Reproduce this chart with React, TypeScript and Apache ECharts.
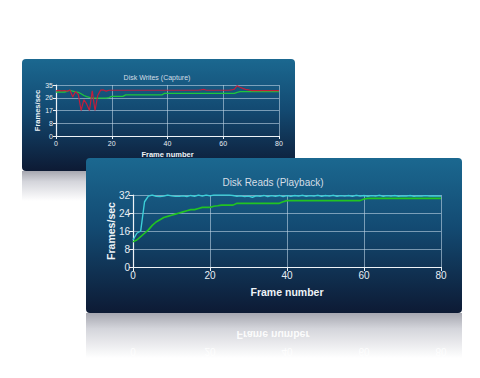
import React, { useEffect, useRef } from "react";
import * as echarts from "echarts";

const frames: number[] = Array.from({ length: 81 }, (_, i) => i);

// Disk Writes (Capture)
const writesRed: number[] = [
  31, 31.3, 31, 31.2, 30.8, 31.5, 26.8, 30.5, 28.5, 17.5,
  25, 22, 17.5, 31, 17.5, 28, 31.5, 31.6, 30.8, 31.4,
  31.4, 31.4, 31.4, 31.4, 31.4, 31.4, 31.4, 31.4, 31.4, 31.4,
  31.4, 31.4, 31.4, 31.4, 31.4, 31.4, 31.4, 31.4, 31.4, 31.4,
  31.4, 31.4, 31.4, 31.4, 31.4, 31.4, 31.4, 31.4, 31.4, 31.4,
  31.4, 31.4, 31.6, 32, 31.4, 31.4, 31.4, 31.4, 31.4, 31.4,
  31.4, 31.4, 31.4, 31.6, 32.2, 34.5, 33.5, 32.7, 32, 31.6,
  31.2, 31.2, 31.2, 31.2, 31.2, 31.2, 31.2, 31.2, 31.2, 31.2, 31.2,
];
const writesGreen: number[] = [
  30.2, 30.2, 30.2, 30.2, 30.6, 31.4, 30.8, 30.3, 30, 29,
  27.8, 27, 26.5, 26.2, 26, 26, 26, 26, 26, 26.4,
  27.2, 27.2, 27.2, 27.2, 27.2, 28.2, 28.2, 28.2, 28.2, 28.2,
  28.2, 28.2, 28.2, 28.2, 28.2, 28.2, 28.2, 28.2, 28.2, 29.3,
  29.3, 29.3, 29.3, 29.3, 29.3, 29.3, 29.3, 29.3, 29.3, 29.3,
  29.3, 29.3, 29.3, 29.3, 29.3, 29.3, 29.3, 29.3, 29.3, 29.3,
  29.3, 29.3, 29.3, 29.3, 29.3, 30, 30.4, 30.4, 30.4, 30.4,
  30.4, 30.4, 30.4, 30.4, 30.4, 30.4, 30.4, 30.4, 30.4, 30.4, 30.4,
];

// Disk Reads (Playback)
const readsCyan: number[] = [
  12, 15, 16, 29, 31.5, 32, 31.4, 31.3, 31.5, 32,
  31.6, 31.4, 31.4, 31.6, 31.3, 31.8, 31.4, 32, 31.5, 32,
  31.6, 32, 32, 32, 32, 32, 31.8, 31.4, 31.6, 31.3,
  31.5, 31, 31.6, 31.4, 31.8, 31.3, 31.7, 31.4, 31.8, 31.3,
  31.7, 31.4, 31.8, 31.5, 31.9, 31.4, 31.7, 31.5, 31.9, 31.4,
  31.8, 31.5, 31.9, 31.4, 31.7, 31.5, 31.8, 31.4, 31.9, 31.5,
  31.8, 31.4, 31.7, 31.5, 31.9, 31.4, 31.7, 31.5, 31.8, 31.4,
  31.6, 31.5, 31.8, 31.4, 31.6, 31.5, 31.7, 31.5, 31.6, 31.5, 31.5,
];
const readsGreen: number[] = [
  11.2, 12, 13.5, 15, 16.5, 18.5, 20, 21, 22, 22.5,
  23, 23.5, 24, 24.5, 25, 25.5, 25.5, 26, 26.5, 26.5,
  26.5, 27, 27.2, 27.5, 27.5, 27.5, 27.5, 28.3, 28.3, 28.3,
  28.3, 28.3, 28.3, 28.3, 28.3, 28.3, 28.3, 28.3, 28.3, 29,
  29.5, 29.5, 29.5, 29.5, 29.5, 29.5, 29.5, 29.5, 29.5, 29.5,
  29.5, 29.5, 29.5, 29.5, 29.5, 29.5, 29.5, 29.5, 29.5, 29.5,
  30.2, 30.5, 30.5, 30.5, 30.5, 30.5, 30.5, 30.5, 30.5, 30.5,
  30.5, 30.5, 30.5, 30.5, 30.5, 30.5, 30.5, 30.5, 30.5, 30.5, 30.5,
];

const xTicks = [0, 20, 40, 60, 80];
const FONT = "'Liberation Sans', Arial, sans-serif";

const pair = (ys: number[]) => frames.map((f, i) => [f, ys[i]]);

export default function App() {
  const ref = useRef<HTMLDivElement>(null);
  useEffect(() => {
    if (!ref.current) return;
    const chart = echarts.init(ref.current, undefined, { renderer: "svg" });
    const panelFill = () =>
      new echarts.graphic.LinearGradient(0, 0, 0, 1, [
        { offset: 0, color: "#1b6890" },
        { offset: 0.45, color: "#134a72" },
        { offset: 1, color: "#0d1a34" },
      ]);
    const reflFill = () =>
      new echarts.graphic.LinearGradient(0, 0, 0, 1, [
        { offset: 0, color: "#a6a7b0" },
        { offset: 0.35, color: "#d4d5db" },
        { offset: 1, color: "#ffffff" },
      ]);
    const gridLine = { lineStyle: { color: "rgba(190,212,228,0.6)", width: 1 } };
    const axisLine = { lineStyle: { color: "#eef3f7", width: 1.2 } };
    const tick = (len: number) => ({ show: true, length: len, lineStyle: { color: "#eef3f7" } });

    chart.setOption({
      animation: false,
      backgroundColor: "#ffffff",
      graphic: [
        // back panel
        { type: "rect", z: 1, shape: { x: 22, y: 171, width: 273, height: 30 }, style: { fill: reflFill() } },
        { type: "rect", z: 1, shape: { x: 22, y: 59, width: 273, height: 112, r: 4 }, style: { fill: panelFill() } },
        { type: "text", z: 3, x: 157, y: 77, style: { text: "Disk Writes (Capture)", fill: "#d6dee6", font: `7px ${FONT}`, textAlign: "center", textVerticalAlign: "middle" } },
        // front panel
        { type: "rect", z: 4, shape: { x: 86, y: 313, width: 376, height: 45 }, style: { fill: reflFill() } },
        { type: "text", z: 4, x: 273, y: 335, scaleY: -1, style: { text: "Frame number", fill: "rgba(255,255,255,0.9)", font: `bold 10.5px ${FONT}`, textAlign: "center", textVerticalAlign: "middle" } },
        ...xTicks.map((t) => ({
          type: "text", z: 4, x: 133 + (t / 80) * 308, y: 351, scaleY: -1,
          style: { text: String(t), fill: "rgba(255,255,255,0.85)", font: `10px ${FONT}`, textAlign: "center", textVerticalAlign: "middle" },
        })),
        { type: "rect", z: 5, shape: { x: 86, y: 158, width: 376, height: 155, r: 4 }, style: { fill: panelFill() } },
        { type: "text", z: 7, x: 273, y: 182, style: { text: "Disk Reads (Playback)", fill: "#d6dee6", font: `10px ${FONT}`, textAlign: "center", textVerticalAlign: "middle" } },
      ],
      grid: [
        { left: 56, right: 201, top: 85, bottom: 242, z: 2 },
        { left: 133, right: 39, top: 195, bottom: 111, z: 6 },
      ],
      xAxis: [
        {
          gridIndex: 0, type: "value", min: 0, max: 80, interval: 20, z: 2,
          axisLine, axisTick: tick(3), splitLine: gridLine,
          axisLabel: { color: "#e6edf3", fontSize: 7, margin: 4, fontFamily: FONT },
          name: "Frame number", nameLocation: "middle", nameGap: 14.5, nameMoveOverlap: false,
          nameTextStyle: { color: "#eef3f7", fontSize: 7.5, fontWeight: "bold", fontFamily: FONT },
        },
        {
          gridIndex: 1, type: "value", min: 0, max: 80, interval: 20, z: 6,
          axisLine, axisTick: tick(4), splitLine: gridLine,
          axisLabel: { color: "#e6edf3", fontSize: 10, margin: 3, fontFamily: FONT },
          name: "Frame number", nameLocation: "middle", nameGap: 19, nameMoveOverlap: false,
          nameTextStyle: { color: "#eef3f7", fontSize: 10.5, fontWeight: "bold", fontFamily: FONT },
        },
      ],
      yAxis: [
        {
          gridIndex: 0, type: "value", min: 0, max: 35, interval: 8.75, z: 2,
          axisLine: { show: true, ...axisLine }, axisTick: tick(3), splitLine: gridLine,
          axisLabel: { color: "#e6edf3", fontSize: 7, margin: 3, fontFamily: FONT, formatter: (v: number) => String(Math.floor(v)) },
          name: "Frames/sec", nameLocation: "middle", nameGap: 15, nameMoveOverlap: false,
          nameTextStyle: { color: "#eef3f7", fontSize: 7.5, fontWeight: "bold", fontFamily: FONT },
        },
        {
          gridIndex: 1, type: "value", min: 0, max: 32, interval: 8, z: 6,
          axisLine: { show: true, ...axisLine }, axisTick: tick(4), splitLine: gridLine,
          axisLabel: { color: "#e6edf3", fontSize: 10, margin: 3, fontFamily: FONT },
          name: "Frames/sec", nameLocation: "middle", nameGap: 16.5, nameMoveOverlap: false,
          nameTextStyle: { color: "#eef3f7", fontSize: 10.5, fontWeight: "bold", fontFamily: FONT },
        },
      ],
      series: [
        { type: "line", xAxisIndex: 0, yAxisIndex: 0, z: 3, data: pair(writesGreen), showSymbol: false, lineStyle: { color: "#1fc63c", width: 1.3 } },
        { type: "line", xAxisIndex: 0, yAxisIndex: 0, z: 3, data: pair(writesRed), showSymbol: false, lineStyle: { color: "#c21e3c", width: 1.2 } },
        { type: "line", xAxisIndex: 1, yAxisIndex: 1, z: 7, data: pair(readsGreen), showSymbol: false, lineStyle: { color: "#22c422", width: 1.6 } },
        { type: "line", xAxisIndex: 1, yAxisIndex: 1, z: 7, data: pair(readsCyan), showSymbol: false, lineStyle: { color: "#3ccfd8", width: 1.4 } },
      ],
    });
    return () => chart.dispose();
  }, []);
  return <div ref={ref} style={{ position: "absolute", left: 0, top: 0, width: 480, height: 378 }} />;
}
